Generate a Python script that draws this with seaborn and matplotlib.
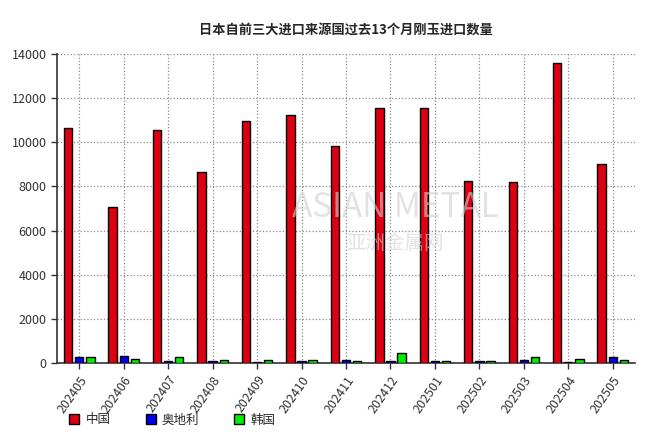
import numpy as np
import pandas as pd
import matplotlib
matplotlib.use('Agg')
import matplotlib.pyplot as plt
import seaborn as sns

# 月份 / 国家 / 进口量
months = ['202405', '202406', '202407', '202408', '202409', '202410', '202411',
          '202412', '202501', '202502', '202503', '202504', '202505']
countries = ['中国', '奥地利', '韩国']
china = [10650, 7060, 10540, 8660, 10970, 11250, 9810, 11560, 11560, 8240, 8200, 13600, 9030]
austria = [255, 320, 105, 105, 60, 105, 150, 105, 105, 105, 150, 50, 265]
korea = [255, 195, 255, 150, 150, 150, 105, 475, 105, 105, 255, 195, 150]
colors = ['#DD0011', '#0000EE', '#00EE00']

df = pd.DataFrame({
    'month': months * 3,
    'country': [countries[0]] * 13 + [countries[1]] * 13 + [countries[2]] * 13,
    'value': china + austria + korea,
})

sns.set_style('ticks')
plt.rcParams['font.family'] = ['Noto Sans CJK SC', 'DejaVu Sans']

fig = plt.figure(figsize=(6.7, 4.41), dpi=100)
ax = fig.add_axes([57 / 670, 78 / 441, 578 / 670, 309 / 441])

# 水印
fig.text(395 / 670, 1 - 207 / 441, 'ASIAN METAL', ha='center', va='center',
         fontsize=24, color='#d0d0d0', alpha=0.6, zorder=0.5)
fig.text(395 / 670, 1 - 243 / 441, '亚洲金属网', ha='center', va='center',
         fontsize=14, color='#d0d0d0', alpha=0.6, zorder=0.5)

sns.barplot(data=df, x='month', y='value', hue='country', palette=colors,
            saturation=1, width=0.75, gap=0.25, edgecolor='black', linewidth=1,
            ax=ax, legend=False, zorder=3)
ax.patch.set_alpha(0)

ax.set_xlim(-0.5, 12.5)
ax.set_ylim(0, 14000)
ax.set_yticks(np.arange(0, 14001, 2000))
ax.set_xlabel('')
ax.set_ylabel('')
ax.grid(True, linestyle=':', color='#888888', linewidth=0.9, zorder=0)
ax.set_axisbelow(True)

for s in ['top', 'right']:
    ax.spines[s].set_visible(False)
for s in ['left', 'bottom']:
    ax.spines[s].set_color('#333333')
    ax.spines[s].set_linewidth(1.2)

ax.tick_params(axis='both', colors='#333333', labelsize=9, length=4, width=1)
plt.setp(ax.get_xticklabels(), rotation=55, ha='right', rotation_mode='anchor', color='#333333')
plt.setp(ax.get_yticklabels(), color='#333333')

fig.text(346 / 670, 1 - 30 / 441, '日本自前三大进口来源国过去13个月刚玉进口数量',
         ha='center', va='center', fontsize=9.5, fontweight='bold')

handles = [plt.Rectangle((0, 0), 1, 1, facecolor=c, edgecolor='black', linewidth=1) for c in colors]
fig.legend(handles, countries, loc='center left', bbox_to_anchor=(58 / 670, 1 - 420 / 441),
           ncol=3, frameon=False, fontsize=9, handlelength=0.8, handleheight=0.8,
           handletextpad=0.5, columnspacing=2.8)

fig.savefig('out.png', dpi=100)
